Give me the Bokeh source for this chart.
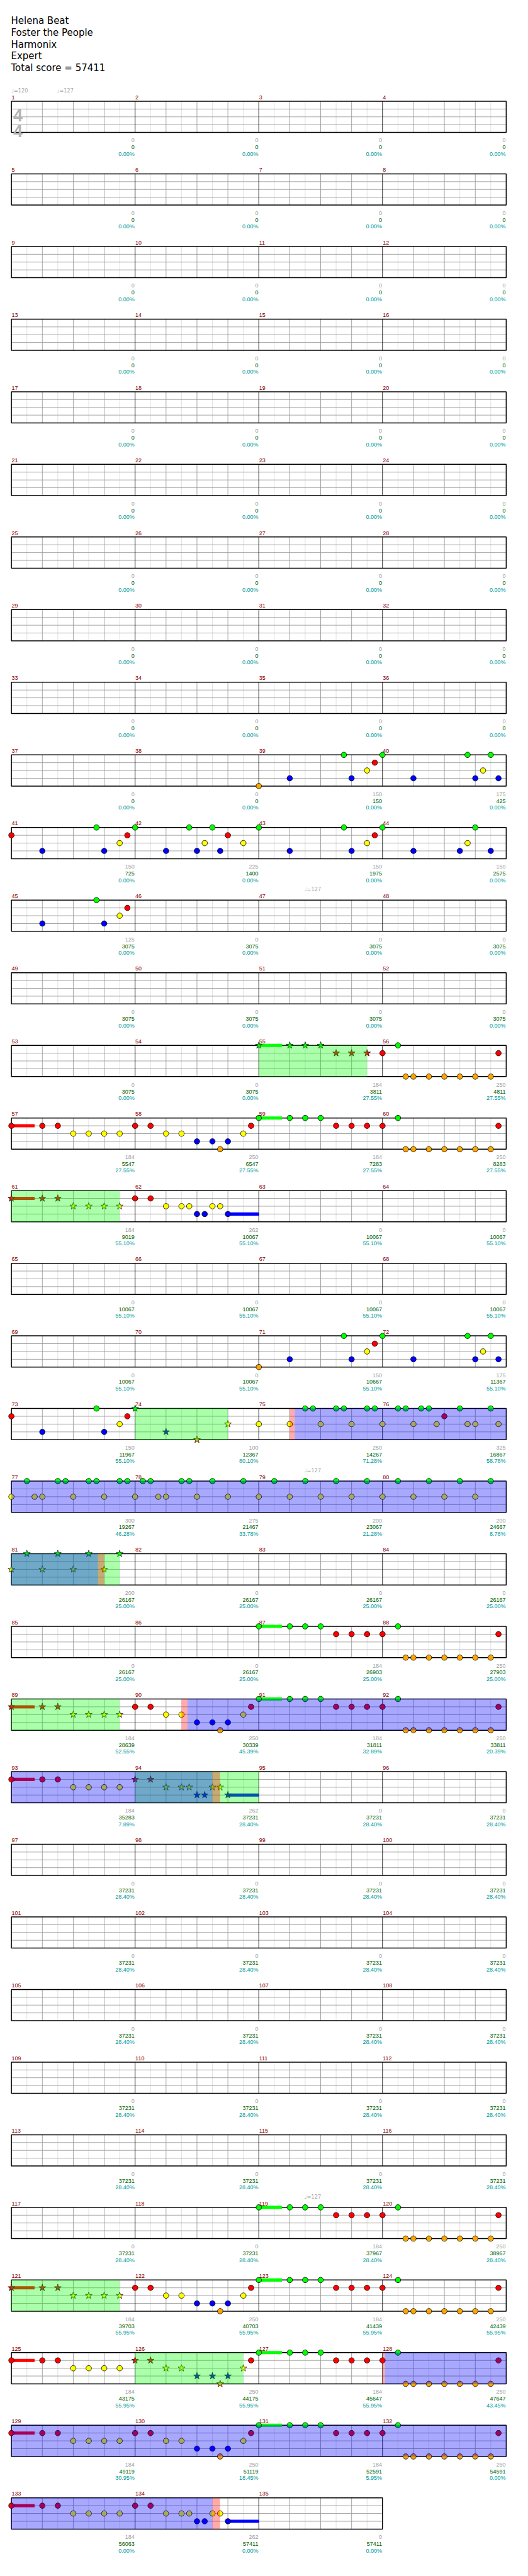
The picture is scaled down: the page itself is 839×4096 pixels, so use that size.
import math
from bokeh.plotting import figure
from bokeh.models import Range1d, ColumnDataSource
from bokeh.embed import file_html
from bokeh.resources import INLINE
from bokeh.core.properties import value

# ---------------- chart data ----------------
title_lines = ["Helena Beat", "Foster the People", "Harmonix", "Expert", "Total score = 57411"]
n_measures = 135
time_signature = ["4", "4"]

tempo_measure = [1, 1, 47, 79, 119]
tempo_tick = [0.0, 5.9, 5.9, 5.9, 5.9]
tempo_bpm = [120, 127, 127, 127, 127]

G, R, Y, B, O = 0, 1, 2, 3, 4
lane_colors = ["#00ff00", "#ff0000", "#ffff00", "#0000ff", "#ffa500"]

# one-measure note patterns: (sixteenth, lane)
pat_intro_a = [(0, O), (4, B), (11, G), (12, B), (14, Y), (15, R)]
pat_intro_b = [(0, G), (4, B), (11, G), (12, B), (13, Y), (14, G), (15, B)]
pat_intro_c = [(0, R), (4, B), (11, G), (12, B), (14, Y), (15, R)]
pat_m42 = [(0, G), (4, B), (7, G), (8, B), (9, Y), (10, G), (11, B), (12, R), (14, Y)]
pat_m43 = [(0, G), (4, B), (11, G), (12, B), (14, Y), (15, R)]
pat_m44 = [(0, G), (4, B), (10, B), (11, Y), (12, G), (14, B)]
pat_m45 = [(4, B), (11, G), (12, B), (14, Y), (15, R)]
pat_ch_a = [(0, G), (4, G), (6, G), (8, G), (10, R), (12, R), (14, R)]
pat_ch_b = [(0, R), (2, G), (3, O), (4, O), (6, O), (8, O), (10, O), (12, O), (14, O), (15, R)]
pat_ch_c = [(0, R), (4, R), (6, R), (8, Y), (10, Y), (12, Y), (14, Y)]
pat_ch_d = [(0, R), (2, R), (4, Y), (6, Y), (8, B), (10, B), (11, O), (12, B), (14, Y), (15, R)]
pat_ch_e = [(0, R), (2, R), (4, Y), (6, Y), (7, Y), (8, B), (9, B), (10, Y), (11, Y), (12, B)]
pat_m74 = [(0, G), (4, B), (8, O), (12, Y)]
pat_m75 = [(0, Y), (4, Y), (6, G), (7, G), (8, Y), (10, G), (11, G), (12, Y), (14, G), (15, G)]
pat_m76 = [(0, Y), (2, G), (3, G), (4, Y), (5, G), (6, G), (7, Y), (8, R), (10, G), (11, Y), (12, Y), (14, G), (15, Y)]
pat_m77 = [(0, Y), (2, G), (3, Y), (4, Y), (6, G), (7, G), (8, Y), (10, G), (11, G), (12, Y), (14, G), (15, G)]
pat_m78 = [(0, Y), (1, G), (2, G), (3, Y), (4, Y), (6, G), (7, G), (8, Y), (10, G), (12, Y), (14, G)]
pat_m79 = [(0, Y), (2, G), (4, Y), (6, G), (8, Y), (10, G), (12, Y), (14, G)]
pat_m81 = [(0, Y), (2, G), (4, Y), (6, G), (8, Y), (10, G), (12, Y), (14, G)]

# where each pattern is played (measure numbers)
pattern_places = [
    (pat_intro_a, [39, 71]), (pat_intro_b, [40, 72]), (pat_intro_c, [41, 73]),
    (pat_m42, [42]), (pat_m43, [43]), (pat_m44, [44]), (pat_m45, [45]),
    (pat_ch_a, [55, 59, 87, 91, 119, 123, 127, 131]),
    (pat_ch_b, [56, 60, 88, 92, 120, 124, 128, 132]),
    (pat_ch_c, [57, 61, 89, 93, 121, 125, 129, 133]),
    (pat_ch_d, [58, 90, 122, 126, 130]),
    (pat_ch_e, [62, 94, 134]),
    (pat_m74, [74]), (pat_m75, [75]), (pat_m76, [76]),
    (pat_m77, [77]), (pat_m78, [78]), (pat_m79, [79, 80]), (pat_m81, [81]),
]

# sustains: (measure, sixteenth, length in sixteenths, lane)
sustains = [(55, 0, 3, G), (57, 0, 3, R), (59, 0, 3, G), (61, 0, 3, R), (62, 12, 4, B),
            (87, 0, 3, G), (89, 0, 3, R), (91, 0, 3, G), (93, 0, 3, R), (94, 12, 4, B),
            (119, 0, 3, G), (121, 0, 3, R), (123, 0, 3, G), (125, 0, 3, R), (127, 0, 3, G),
            (129, 0, 3, R), (131, 0, 3, G), (133, 0, 3, R), (134, 12, 4, B)]

# shaded phrases: (start measure, start sixteenth, end measure, end sixteenth)
sp_phrases = [(55, 0, 55, 14), (61, 0, 61, 14), (74, 0, 74, 12), (81, 0, 81, 14),
              (89, 0, 89, 14), (94, 0, 95, 0), (121, 0, 121, 14), (126, 0, 126, 14)]
od_active = [(75, 4.64, 81, 11.2), (90, 6.76, 94, 10), (128, 0.3, 134, 10)]
od_marks = [(75, 4, 75, 4.64), (81, 11.2, 81, 12), (90, 6, 90, 6.76), (94, 10, 94, 11),
            (128, 0, 128, 0.3), (134, 10, 134, 11)]

measure_score = ([0] * 38 + [150, 175, 150, 225, 150, 150, 125] + [0] * 9 +
                 [184, 250, 184, 250, 184, 250, 184, 262] + [0] * 8 +
                 [150, 175, 150, 100, 250, 325, 300, 275, 200, 200, 200] + [0] * 5 +
                 [184, 250, 184, 250, 184, 250, 184, 262] + [0] * 24 +
                 [184, 250, 184, 250, 184, 250] +
                 [184, 250, 184, 250, 184, 250, 184, 250, 184, 262, 0])
cumulative = ([0] * 38 + [150, 425, 725, 1400, 1975, 2575, 3075] + [3075] * 9 +
              [3811, 4811, 5547, 6547, 7283, 8283, 9019, 10067] + [10067] * 8 +
              [10667, 11367, 11967, 12367, 14267, 16867, 19267, 21467, 23067, 24667, 26167] + [26167] * 5 +
              [26903, 27903, 28639, 30339, 31811, 33811, 35283, 37231] + [37231] * 24 +
              [37967, 38967, 39703, 40703, 41439, 42439] +
              [43175, 44175, 45647, 47647, 49119, 51119, 52591, 54591, 56063, 57411, 57411])
percent = (["0.00%"] * 54 + ["27.55%"] * 6 + ["55.10%"] * 13 +
           ["80.10%", "71.28%", "58.78%", "46.28%", "33.78%", "21.28%", "8.78%"] + ["25.00%"] * 8 +
           ["52.55%", "45.39%", "32.89%", "20.39%", "7.89%"] + ["28.40%"] * 27 + ["55.95%"] * 4 +
           ["55.95%", "55.95%", "55.95%", "43.45%", "30.95%", "18.45%", "5.95%", "0.00%", "0.00%", "0.00%", "0.00%"])

# ---------------- layout (reference pixels) ----------------
S = 0.819
W_PX, H_PX = 823, 4080
X_START = 8 / S
Y_START = 8 / S
X0 = 31.3          # staff left
MW = 240.0         # measure width
SX = MW / 16.0     # one sixteenth
TOP0 = 205.7       # first staff top
PITCH = 141.0      # row pitch
LANE = 15.15       # lane spacing
STAFF_H = 4 * LANE
PER_ROW = 4
n_rows = (n_measures + PER_ROW - 1) // PER_ROW

FONT = value("Liberation Sans")


def row_top(r):
    return TOP0 + r * PITCH


def gpos(m, t):
    return (m - 1) * 16 + t


def gx(g):
    r = int(g // 64)
    return X0 + (g - 64 * r) * SX


p = figure(width=W_PX, height=H_PX, title=None,
           x_range=Range1d(X_START, X_START + W_PX / S),
           y_range=Range1d(Y_START + H_PX / S, Y_START),
           output_backend="svg", toolbar_location=None,
           x_axis_type=None, y_axis_type=None, min_border=0)
p.outline_line_color = None
p.background_fill_color = "white"

# ---------- grid ----------
light = dict(x0=[], y0=[], x1=[], y1=[])
beat = dict(x0=[], y0=[], x1=[], y1=[])
meas = dict(x0=[], y0=[], x1=[], y1=[])
border = dict(left=[], right=[], top=[], bottom=[])
for r in range(n_rows):
    nm = min(PER_ROW, n_measures - PER_ROW * r)
    T = row_top(r)
    Bm = T + STAFF_H
    for k in range(1, nm * 8):
        x = X0 + k * SX * 2
        d = meas if k % 8 == 0 else (beat if k % 2 == 0 else light)
        d["x0"].append(x); d["x1"].append(x); d["y0"].append(T); d["y1"].append(Bm)
    for l in range(1, 4):
        y = T + l * LANE
        beat["x0"].append(X0); beat["x1"].append(X0 + nm * MW)
        beat["y0"].append(y); beat["y1"].append(y)
    border["left"].append(X0); border["right"].append(X0 + nm * MW)
    border["top"].append(T); border["bottom"].append(Bm)

p.segment("x0", "y0", "x1", "y1", source=ColumnDataSource(light), line_color="#dcdcdc", line_width=0.9)
p.segment("x0", "y0", "x1", "y1", source=ColumnDataSource(beat), line_color="#9a9a9a", line_width=0.9)
p.segment("x0", "y0", "x1", "y1", source=ColumnDataSource(meas), line_color="black", line_width=0.9)
p.quad(source=ColumnDataSource(border), fill_color=None, line_color="black", line_width=1.5)


# ---------- notes ----------
def in_sp(g):
    for (m0, t0, m1, t1) in sp_phrases:
        if gpos(m0, t0) - 0.01 <= g <= gpos(m1, t1) + 0.01:
            return True
    return False


circ = dict(x=[], y=[], c=[])
star = dict(x=[], y=[], c=[])
for pat, places in pattern_places:
    for m in places:
        for (t, lane) in pat:
            g = gpos(m, t)
            r = (m - 1) // PER_ROW
            d = star if in_sp(g) else circ
            d["x"].append(gx(g)); d["y"].append(row_top(r) + lane * LANE); d["c"].append(lane_colors[lane])

sus = dict(left=[], right=[], top=[], bottom=[], c=[])
for (m, t, ln, lane) in sustains:
    g = gpos(m, t)
    r = (m - 1) // PER_ROW
    y = row_top(r) + lane * LANE
    sus["left"].append(gx(g)); sus["right"].append(gx(g) + ln * SX)
    sus["top"].append(y - 3.1); sus["bottom"].append(y + 3.1); sus["c"].append(lane_colors[lane])

p.quad(left="left", right="right", top="top", bottom="bottom", source=ColumnDataSource(sus),
       fill_color="c", line_color=None)
p.scatter("x", "y", source=ColumnDataSource(circ), marker="circle", size=8.7,
          fill_color="c", line_color="black", line_width=0.8)
p.scatter("x", "y", source=ColumnDataSource(star), marker="star", size=11.5,
          fill_color="c", line_color="black", line_width=0.7)


# ---------- shaded zones (translucent overlays) ----------
def zone_quads(zones):
    d = dict(left=[], right=[], top=[], bottom=[])
    for (m0, t0, m1, t1) in zones:
        g0, g1 = gpos(m0, t0), gpos(m1, t1)
        r = int(g0 // 64)
        while 64 * r < g1:
            a, b = max(g0, 64 * r), min(g1, 64 * r + 64)
            d["left"].append(X0 + (a - 64 * r) * SX); d["right"].append(X0 + (b - 64 * r) * SX)
            d["top"].append(row_top(r)); d["bottom"].append(row_top(r) + STAFF_H)
            r += 1
    return ColumnDataSource(d)


p.quad(source=zone_quads(sp_phrases), fill_color="#00ff00", fill_alpha=0.33, line_color=None)
p.quad(source=zone_quads(od_active), fill_color="#0000ff", fill_alpha=0.34, line_color=None)
p.quad(source=zone_quads(od_marks), fill_color="#ff0000", fill_alpha=0.33, line_color=None)

# ---------- texts ----------
p.text(x=[30.5] * len(title_lines), y=[49.3 + 23 * i for i in range(len(title_lines))], text=title_lines,
       text_font=value("DejaVu Sans"), text_font_size="15px", text_color="black",
       text_baseline="alphabetic", text_align="left")

p.text(x=[44.0, 44.0], y=[row_top(0) + 27.0, row_top(0) + 57.6], text=time_signature,
       text_font=value("Liberation Sans"), text_font_style="bold", text_font_size="27px",
       text_color="#b4b4b4", text_align="center", text_baseline="alphabetic")

tx, ty, tt = [], [], []
for m, t, bpm in zip(tempo_measure, tempo_tick, tempo_bpm):
    r = (m - 1) // PER_ROW
    tx.append(gx(gpos(m, t))); ty.append(row_top(r) - 20.7); tt.append("\u2669=%d" % bpm)
p.text(x=tx, y=ty, text=tt, text_font=value("DejaVu Sans"), text_font_size="8.2px",
       text_color="#a8a8a8", text_align="left", text_baseline="alphabetic")

num = dict(x=[], y=[], t=[])
sc = dict(x=[], y=[], t=[])
cu = dict(x=[], y=[], t=[])
pc = dict(x=[], y=[], t=[])
for m in range(1, n_measures + 1):
    r = (m - 1) // PER_ROW
    j = (m - 1) % PER_ROW
    T = row_top(r)
    Bm = T + STAFF_H
    xs = X0 + j * MW
    xe = xs + MW
    num["x"].append(xs + 0.5); num["y"].append(T - 7.7); num["t"].append(str(m))
    sc["x"].append(xe - 1); sc["y"].append(Bm + 15.7); sc["t"].append(str(measure_score[m - 1]))
    cu["x"].append(xe - 1); cu["y"].append(Bm + 29.0); cu["t"].append(str(cumulative[m - 1]))
    pc["x"].append(xe - 1); pc["y"].append(Bm + 41.7); pc["t"].append(percent[m - 1])

p.text("x", "y", text="t", source=ColumnDataSource(num), text_font=FONT, text_font_size="9px",
       text_color="#8b0000", text_align="left", text_baseline="alphabetic")
p.text("x", "y", text="t", source=ColumnDataSource(sc), text_font=FONT, text_font_size="9px",
       text_color="#a0a0a0", text_align="right", text_baseline="alphabetic")
p.text("x", "y", text="t", source=ColumnDataSource(cu), text_font=FONT, text_font_size="9px",
       text_color="#006400", text_align="right", text_baseline="alphabetic")
p.text("x", "y", text="t", source=ColumnDataSource(pc), text_font=FONT, text_font_size="9px",
       text_color="#009a9a", text_align="right", text_baseline="alphabetic")

open("out.html", "w").write(file_html(p, INLINE))
